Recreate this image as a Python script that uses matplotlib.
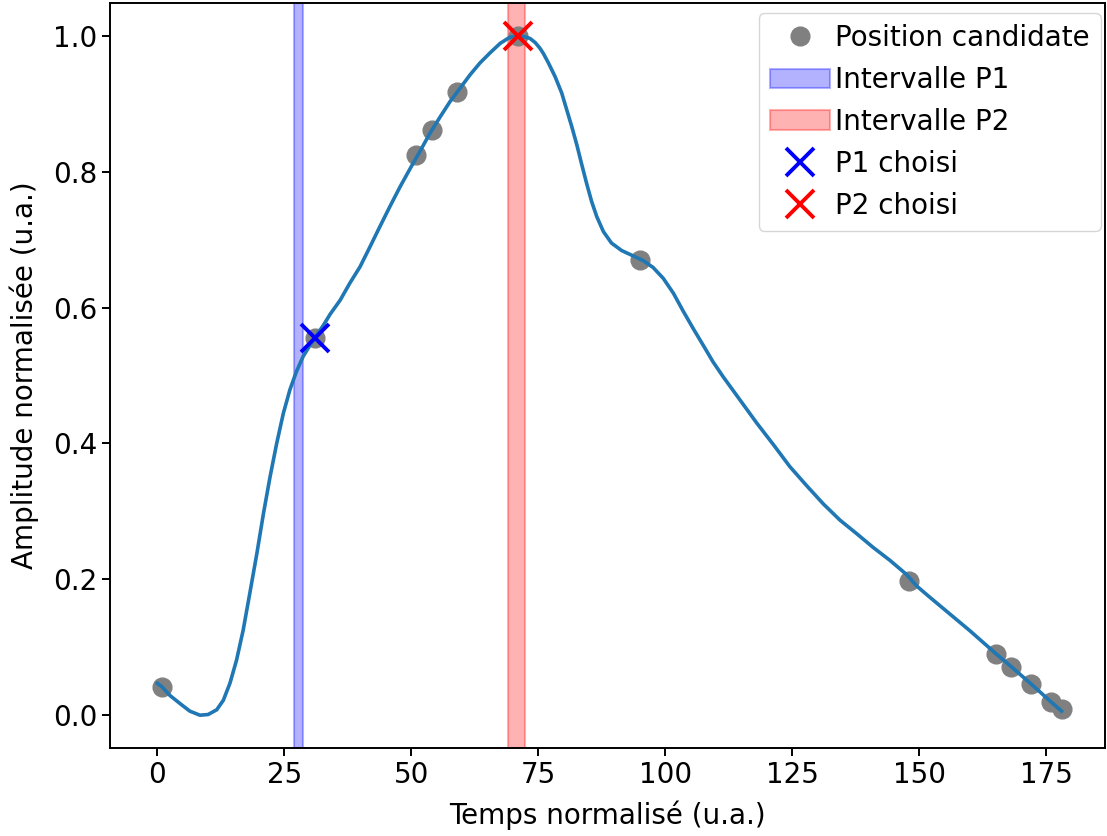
import numpy as np
import matplotlib
matplotlib.use("Agg")
import matplotlib.pyplot as plt

# smooth signal
curve_t = [0, 0.9, 2.5, 4.5, 6.4, 8.4, 10.0, 11.7, 13.0, 14.3, 15.6, 16.9, 18.2,
           19.6, 20.9, 22.2, 23.5, 24.8, 26.1, 27.4, 28.7, 30.1, 31.4, 32.7, 34.0,
           36.0, 37.9, 39.9, 41.9, 43.8, 45.8, 47.8, 49.8, 51.7, 53.7, 55.7, 57.6,
           59.6, 61.6, 63.5, 65.5, 67.5, 69.4, 71.1, 72.7, 73.4, 74.4, 75.3, 76.0,
           77.0, 78.3, 79.6, 80.6, 81.6, 82.6, 83.5, 84.5, 85.5, 86.5, 87.8, 89.4,
           91.4, 93.7, 95.7, 97.6, 99.6, 101.6, 103.5, 105.5, 107.5, 109.4, 111.4,
           114.7, 118.0, 121.3, 124.5, 127.8, 131.1, 134.4, 137.7, 140.9, 144.2,
           147.5, 149.5, 152, 156, 160, 165, 168, 172, 176, 178]
curve_y = [0.047, 0.042, 0.029, 0.017, 0.006, 0.0, 0.001, 0.008, 0.022, 0.047,
           0.081, 0.125, 0.179, 0.238, 0.297, 0.351, 0.400, 0.444, 0.479, 0.506,
           0.528, 0.545, 0.560, 0.574, 0.590, 0.611, 0.636, 0.660, 0.690, 0.719,
           0.749, 0.778, 0.805, 0.830, 0.857, 0.881, 0.903, 0.923, 0.943, 0.960,
           0.975, 0.989, 0.998, 1.0, 0.998, 0.996, 0.990, 0.982, 0.974, 0.960,
           0.940, 0.916, 0.891, 0.866, 0.839, 0.812, 0.783, 0.756, 0.734, 0.712,
           0.695, 0.684, 0.676, 0.669, 0.659, 0.643, 0.621, 0.595, 0.569, 0.544,
           0.520, 0.498, 0.464, 0.430, 0.398, 0.366, 0.338, 0.311, 0.287, 0.267,
           0.247, 0.228, 0.207, 0.190, 0.174, 0.149, 0.124, 0.091, 0.072, 0.046,
           0.019, 0.006]

# candidate positions
cand_t = [1, 31, 51, 54, 59, 71, 95, 148, 165, 168, 172, 176, 178]
cand_y = [0.041, 0.555, 0.824, 0.861, 0.917, 1.0, 0.670, 0.197, 0.090, 0.071,
          0.046, 0.019, 0.009]

# intervals and chosen points
p1_interval = (27.0, 28.7)
p2_interval = (69.0, 72.4)
p1_choice = (31, 0.555)
p2_choice = (71, 1.0)

plt.rcParams["font.size"] = 20

fig = plt.figure(figsize=(11.07, 8.36), dpi=100)
ax = fig.add_axes([0.0994, 0.105, 0.8986, 0.8916])

ax.axvspan(*p1_interval, color="blue", alpha=0.3, linewidth=1.5, label="Intervalle P1", zorder=1)
ax.axvspan(*p2_interval, color="red", alpha=0.3, linewidth=1.5, label="Intervalle P2", zorder=1)
ax.plot(cand_t, cand_y, "o", color="gray", markersize=13.5, label="Position candidate", zorder=2)
ax.plot(curve_t, curve_y, "-", color="#1f77b4", linewidth=2.6, zorder=3,
        solid_joinstyle="round")
ax.plot([p1_choice[0]], [p1_choice[1]], "x", color="blue", markersize=20,
        markeredgewidth=2.8, label="P1 choisi", zorder=4)
ax.plot([p2_choice[0]], [p2_choice[1]], "x", color="red", markersize=20,
        markeredgewidth=2.8, label="P2 choisi", zorder=4)

ax.set_xlim(-9.3, 186.5)
ax.set_ylim(-0.0486, 1.0486)
ax.set_xticks([0, 25, 50, 75, 100, 125, 150, 175])
ax.set_yticks([0.0, 0.2, 0.4, 0.6, 0.8, 1.0])
ax.tick_params(length=5.5, width=1.4)
for s in ax.spines.values():
    s.set_linewidth(1.4)

ax.set_xlabel("Temps normalisé (u.a.)", labelpad=8.5)
ax.set_ylabel("Amplitude normalisée (u.a.)", labelpad=10)

handles, labels = ax.get_legend_handles_labels()
order = [labels.index(l) for l in ["Position candidate", "Intervalle P1", "Intervalle P2",
                                    "P1 choisi", "P2 choisi"]]
ax.legend([handles[i] for i in order], [labels[i] for i in order], loc="upper right",
          bbox_to_anchor=(1101 / 1107, 1 - 13 / 836), bbox_transform=fig.transFigure,
          borderaxespad=0, handletextpad=0.2, handlelength=2.15)

fig.savefig("out.png", dpi=100)
